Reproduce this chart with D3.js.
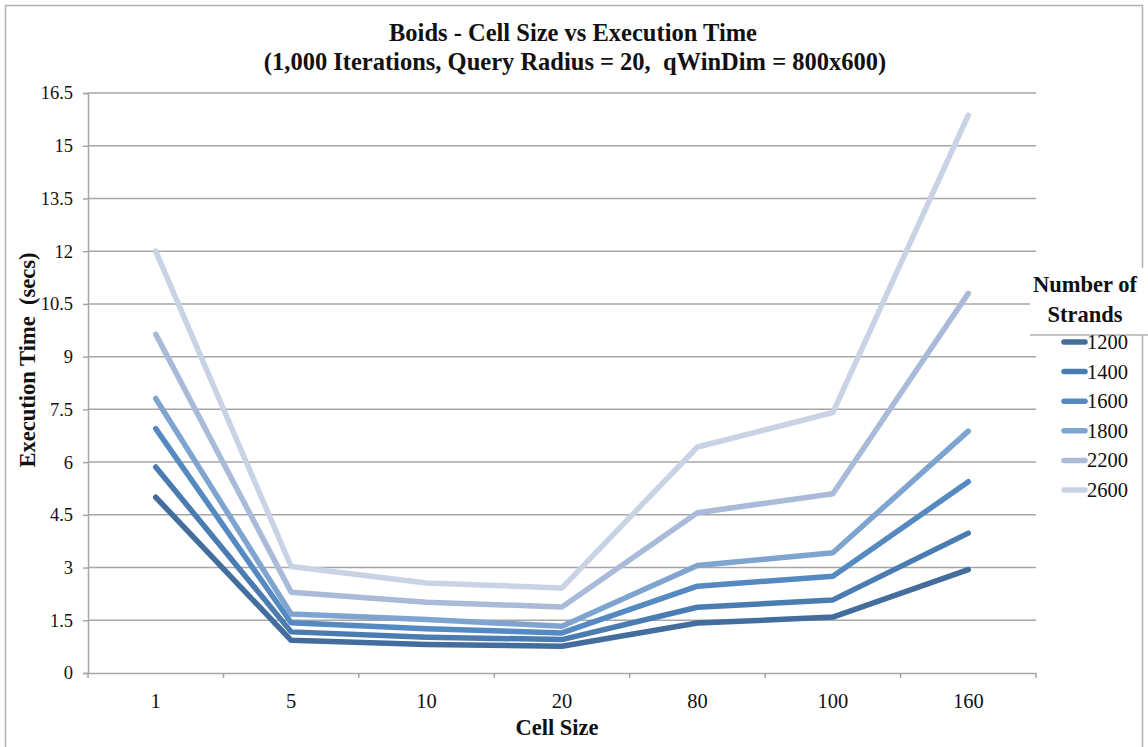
<!DOCTYPE html>
<html>
<head>
<meta charset="utf-8">
<script src="https://cdn.jsdelivr.net/npm/d3@7"></script>
<style>
	body { margin: 0; background: #fff; }
	svg { display: block; font-family: "Liberation Serif", "Times New Roman", serif; }
</style>
</head>
<body>
<svg width="1148" height="747"></svg>
<script>
// cell sizes on the x axis
var cellSizes = ["1", "5", "10", "20", "80", "100", "160"];
var yTicks = [0, 1.5, 3, 4.5, 6, 7.5, 9, 10.5, 12, 13.5, 15, 16.5];

// execution time (secs) per number of strands
var strands = ["1200", "1400", "1600", "1800", "2200", "2600"];
var t1200 = [5.0, 0.93, 0.81, 0.76, 1.42, 1.59, 2.94];
var t1400 = [5.86, 1.17, 1.02, 0.95, 1.87, 2.08, 3.98];
var t1600 = [6.95, 1.43, 1.26, 1.14, 2.47, 2.75, 5.44];
var t1800 = [7.81, 1.68, 1.52, 1.33, 3.06, 3.42, 6.88];
var t2200 = [9.64, 2.30, 2.01, 1.88, 4.56, 5.10, 10.8];
var t2600 = [12.0, 3.03, 2.56, 2.42, 6.43, 7.41, 15.87];
var colors = ["#436d9d", "#4a7cb2", "#5589c2", "#7fa4cf", "#a9bbd9", "#c9d3e6"];

function drawChart() {
	var series = [t1200, t1400, t1600, t1800, t2200, t2600];

	var svg = d3.select("svg"),
		margin = { top: 93, right: 112, bottom: 74, left: 88 },
		width = +svg.attr("width") - margin.left - margin.right,
		height = +svg.attr("height") - margin.top - margin.bottom;

	// outer chart border
	svg.append("rect")
		.attr("x", 5.5).attr("y", 5.5)
		.attr("width", 1137).attr("height", 760)
		.attr("fill", "none")
		.attr("stroke", "#b0b0b0")
		.attr("stroke-width", 1.5);

	var x = d3.scaleBand().domain(cellSizes).range([0, width]),
		y = d3.scaleLinear().domain([0, 16.5]).range([height, 0]);

	var g = svg.append("g")
		.attr("transform", "translate(" + margin.left + "," + margin.top + ")");

	// gridlines
	g.append("g")
		.selectAll("line")
		.data(yTicks.slice(1))
		.enter().append("line")
		.attr("x1", 0).attr("x2", width)
		.attr("y1", function(d) { return y(d); })
		.attr("y2", function(d) { return y(d); })
		.attr("stroke", "#a6a6a6")
		.attr("stroke-width", 1.5);

	var yAxis = g.append("g")
		.call(d3.axisLeft(y).tickValues(yTicks).tickSize(5).tickPadding(10)
			.tickFormat(function(d) { return d3.format("")(d); }));
	var xAxis = g.append("g")
		.attr("transform", "translate(0," + height + ")")
		.call(d3.axisBottom(x).tickSize(0).tickPadding(20));

	[yAxis, xAxis].forEach(function(a) {
		a.select(".domain").attr("stroke", "#a6a6a6").attr("stroke-width", 1.5);
		a.selectAll(".tick line").attr("stroke", "#a6a6a6").attr("stroke-width", 1.5);
		a.selectAll("text")
			.attr("font-family", "Liberation Serif, serif")
			.attr("fill", "#111");
	});
	yAxis.selectAll("text").attr("font-size", 18.5);
	xAxis.selectAll("text").attr("font-size", 20.5);

	// category boundary ticks on the x axis
	xAxis.selectAll(".bound")
		.data(d3.range(cellSizes.length + 1))
		.enter().append("line")
		.attr("x1", function(i) { return i * x.step(); })
		.attr("x2", function(i) { return i * x.step(); })
		.attr("y1", 0).attr("y2", 5)
		.attr("stroke", "#a6a6a6")
		.attr("stroke-width", 1.5);

	var line = d3.line()
		.x(function(d, i) { return x(cellSizes[i]) + x.bandwidth() / 2; })
		.y(function(d) { return y(d); });

	g.selectAll(".series")
		.data(series)
		.enter().append("path")
		.attr("class", "series")
		.attr("d", line)
		.attr("fill", "none")
		.attr("stroke", function(d, i) { return colors[i]; })
		.attr("stroke-width", 5.5)
		.attr("stroke-linecap", "round")
		.attr("stroke-linejoin", "round");

	// titles
	var title = svg.append("text")
		.attr("text-anchor", "middle")
		.attr("font-weight", "bold")
		.attr("font-size", 24.5)
		.attr("fill", "#111");
	title.append("tspan").attr("x", 573).attr("y", 41).text("Boids - Cell Size vs Execution Time");
	title.append("tspan").attr("x", 575).attr("y", 70)
		.style("white-space", "pre")
		.text("(1,000 Iterations, Query Radius = 20,  qWinDim = 800x600)");

	svg.append("text")
		.attr("x", 557).attr("y", 735)
		.attr("text-anchor", "middle")
		.attr("font-weight", "bold")
		.attr("font-size", 22.5)
		.attr("fill", "#111")
		.text("Cell Size");

	svg.append("text")
		.attr("transform", "translate(35,360) rotate(-90)")
		.attr("text-anchor", "middle")
		.attr("font-weight", "bold")
		.attr("font-size", 22.5)
		.attr("fill", "#111")
		.style("white-space", "pre")
		.text("Execution Time  (secs)");

	// legend
	var lg = svg.append("g");
	lg.append("rect")
		.attr("x", 1030).attr("y", 268)
		.attr("width", 118).attr("height", 67)
		.attr("fill", "#fff");
	lg.append("line")
		.attr("x1", 1030).attr("x2", 1148)
		.attr("y1", 335).attr("y2", 335)
		.attr("stroke", "#b0b0b0").attr("stroke-width", 1.5);
	lg.append("text")
		.attr("x", 1085).attr("y", 292)
		.attr("text-anchor", "middle")
		.attr("font-weight", "bold").attr("font-size", 22.5).attr("fill", "#111")
		.text("Number of");
	lg.append("text")
		.attr("x", 1085).attr("y", 322)
		.attr("text-anchor", "middle")
		.attr("font-weight", "bold").attr("font-size", 22.5).attr("fill", "#111")
		.text("Strands");

	var item = lg.selectAll(".item")
		.data(strands)
		.enter().append("g")
		.attr("class", "item")
		.attr("transform", function(d, i) { return "translate(0," + (342 + i * 29.6) + ")"; });
	item.append("line")
		.attr("x1", 1064).attr("x2", 1085)
		.attr("y1", 0).attr("y2", 0)
		.attr("stroke", function(d, i) { return colors[i]; })
		.attr("stroke-width", 5.5)
		.attr("stroke-linecap", "round");
	item.append("text")
		.attr("x", 1087).attr("y", 7)
		.attr("font-size", 20.5).attr("fill", "#111")
		.text(function(d) { return d; });
}

drawChart();
</script>
</body>
</html>
